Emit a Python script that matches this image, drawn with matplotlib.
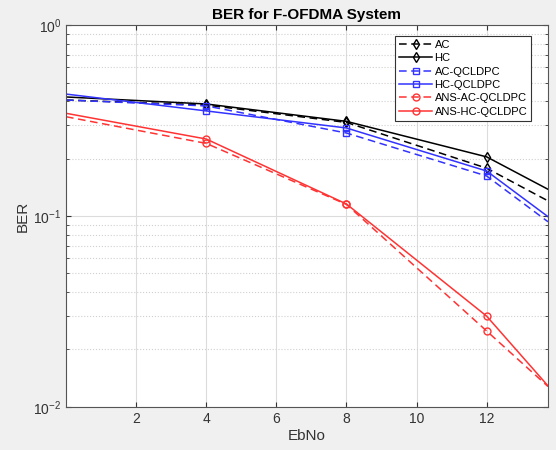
import numpy as np
import matplotlib.pyplot as plt
from matplotlib.ticker import LogLocator, NullFormatter

plt.rcParams['font.family'] = ['Liberation Sans', 'DejaVu Sans']

# data
ebno = [0, 4, 8, 12, 13.75]
ber_ac = [0.405, 0.381, 0.309, 0.178, 0.120]
ber_hc = [0.420, 0.386, 0.313, 0.204, 0.138]
ber_ac_qc = [0.405, 0.377, 0.272, 0.162, 0.0933]
ber_hc_qc = [0.435, 0.355, 0.289, 0.172, 0.0992]
ber_ans_ac = [0.331, 0.240, 0.115, 0.0250, 0.0128]
ber_ans_hc = [0.345, 0.253, 0.1156, 0.0299, 0.0129]
xticks = [2, 4, 6, 8, 10, 12]

blue = '#3333ff'
red = '#ff3333'
dash = (0, (5, 3))
mk = dict(markevery=[1, 2, 3], markersize=5, markerfacecolor='none', linewidth=1.1)

fig = plt.figure(figsize=(5.56, 4.5), dpi=100, facecolor='#f0f0f0')
ax = fig.add_axes([0.1187, 0.0956, 0.8669, 0.8488])

ax.plot(ebno, ber_ac, color='k', linestyle=dash, marker='d', label='AC', **mk)
ax.plot(ebno, ber_hc, color='k', linestyle='-', marker='d', label='HC', **mk)
ax.plot(ebno, ber_ac_qc, color=blue, linestyle=dash, marker='s', label='AC-QCLDPC', **mk)
ax.plot(ebno, ber_hc_qc, color=blue, linestyle='-', marker='s', label='HC-QCLDPC', **mk)
ax.plot(ebno, ber_ans_ac, color=red, linestyle=dash, marker='o', label='ANS-AC-QCLDPC', **mk)
ax.plot(ebno, ber_ans_hc, color=red, linestyle='-', marker='o', label='ANS-HC-QCLDPC', **mk)

ax.set_yscale('log')
ax.set_ylim(1e-2, 1)
ax.set_xlim(0, 13.75)
ax.set_xticks(xticks)
ax.yaxis.set_minor_locator(LogLocator(base=10, subs=np.arange(2, 10)))
ax.yaxis.set_minor_formatter(NullFormatter())

ax.grid(True, which='major', color='#dcdcdc', linewidth=0.8)
ax.grid(True, which='minor', axis='y', color='#d0d0d0', linestyle=':', linewidth=0.8)
ax.set_axisbelow(True)

ax.tick_params(which='both', direction='in', top=True, right=True, labelsize=10, colors='#333333')
ax.tick_params(which='minor', length=2)
for s in ax.spines.values():
    s.set_color('#555555')

ax.set_xlabel('EbNo', fontsize=11, color='#333333', labelpad=2)
ax.set_ylabel('BER', fontsize=11, color='#333333', labelpad=2)
ax.set_title('BER for F-OFDMA System', fontsize=11, fontweight='bold', pad=4)

leg = ax.legend(loc='upper right', bbox_to_anchor=(0.965, 0.971), fontsize=8,
                fancybox=False, framealpha=1, edgecolor='#333333',
                handlelength=3.0, handletextpad=0.2, labelspacing=0.3,
                borderaxespad=0, borderpad=0.35)
leg.get_frame().set_linewidth(0.8)

fig.savefig('out.png', dpi=100, facecolor=fig.get_facecolor())
